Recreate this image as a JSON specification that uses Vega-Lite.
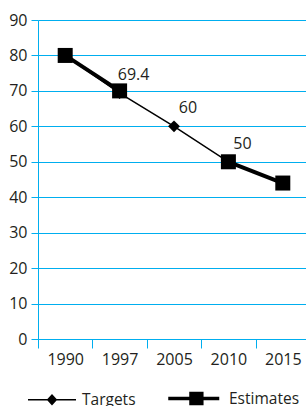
{
  "$schema": "https://vega.github.io/schema/vega-lite/v6.json",
  "width": 272,
  "height": 319,
  "autosize": {"type": "none"},
  "padding": {"left": 38, "top": 20, "right": 0, "bottom": 67},
  "background": "white",
  "config": {
    "view": {"stroke": null},
    "font": "Open Sans",
    "axis": {
      "labelFont": "Open Sans",
      "labelFontSize": 16,
      "labelColor": "#231F20",
      "domainColor": "#00AEEF",
      "tickColor": "#00AEEF",
      "gridColor": "#00AEEF",
      "domainWidth": 1,
      "tickWidth": 1,
      "gridWidth": 1,
      "title": null
    }
  },
  "data": {
    "values": [
      {"year": "1990", "series": "Targets", "value": 80},
      {"year": "1997", "series": "Targets", "value": 69.4, "label": "69.4"},
      {"year": "2005", "series": "Targets", "value": 60, "label": "60"},
      {"year": "2010", "series": "Targets", "value": 50, "label": "50"},
      {"year": "2015", "series": "Targets", "value": 44},
      {"year": "1990", "series": "Estimates", "value": 80, "seg": "a"},
      {"year": "1997", "series": "Estimates", "value": 70, "seg": "a"},
      {"year": "2010", "series": "Estimates", "value": 50, "seg": "b"},
      {"year": "2015", "series": "Estimates", "value": 44, "seg": "b"}
    ]
  },
  "encoding": {
    "x": {
      "field": "year",
      "type": "ordinal",
      "scale": {"type": "band", "paddingInner": 0, "paddingOuter": 0},
      "axis": {"labelAngle": 0, "tickBand": "extent", "tickSize": 9, "labelPadding": 3, "grid": false}
    },
    "y": {
      "field": "value",
      "type": "quantitative",
      "scale": {"domain": [0, 90], "nice": false},
      "axis": {"values": [0, 10, 20, 30, 40, 50, 60, 70, 80, 90], "grid": true, "tickSize": 7, "labelPadding": 4}
    }
  },
  "layer": [
    {
      "transform": [{"filter": "datum.series === 'Targets'"}],
      "mark": {"type": "line", "color": "black", "strokeWidth": 1.5}
    },
    {
      "transform": [{"filter": "datum.series === 'Estimates'"}],
      "mark": {"type": "line", "color": "black", "strokeWidth": 4},
      "encoding": {"detail": {"field": "seg"}}
    },
    {
      "transform": [{"filter": "datum.series === 'Targets'"}],
      "mark": {"type": "point", "shape": "diamond", "filled": true, "color": "black", "opacity": 1, "size": 140}
    },
    {
      "transform": [{"filter": "datum.series === 'Estimates'"}],
      "mark": {"type": "point", "shape": "square", "filled": true, "color": "black", "opacity": 1, "size": 225}
    },
    {
      "mark": {"type": "point", "filled": false, "color": "black", "opacity": 0, "size": 1},
      "encoding": {
        "shape": {
          "field": "series",
          "type": "nominal",
          "scale": {
            "domain": ["Targets", "Estimates"],
            "range": [
              "M-0.96,0H0.96M-0.17,0L0,-0.19L0.17,0L0,0.19ZM-0.12,0L0,-0.13L0.12,0L0,0.13ZM-0.07,0L0,-0.08L0.07,0L0,0.08ZM-0.02,0L0,-0.03L0.02,0L0,0.03Z",
              "M-1.19,0H0.85M-0.28,-0.2H0.152V0.2H-0.28ZM-0.154,-0.08H0.026V0.08H-0.154ZM-0.084,-0.02H-0.044V0.02H-0.084Z"
            ]
          },
          "legend": {
            "title": null,
            "orient": "none",
            "direction": "horizontal",
            "legendX": -12,
            "legendY": 351.5,
            "symbolSize": 2500,
            "labelFont": "Open Sans",
            "labelFontSize": 15.5,
            "labelColor": "#231F20",
            "labelOffset": 4,
            "columnPadding": 25,
            "symbolStrokeColor": "black",
            "encode": {
              "symbols": {
                "update": {
                  "fill": {"value": "black"},
                  "stroke": {"value": "black"},
                  "opacity": {"value": 1},
                  "strokeOpacity": {"value": 1},
                  "size": {"value": 2500}
                }
              }
            }
          }
        },
        "strokeWidth": {
          "field": "series",
          "type": "nominal",
          "scale": {"domain": ["Targets", "Estimates"], "range": [1.5, 3.5]}
        }
      }
    },
    {
      "transform": [{"filter": "isValid(datum.label)"}],
      "mark": {"type": "text", "font": "Open Sans", "fontSize": 16, "color": "#231F20", "align": "center", "baseline": "alphabetic", "dx": 14, "dy": -13},
      "encoding": {"text": {"field": "label"}}
    }
  ]
}
